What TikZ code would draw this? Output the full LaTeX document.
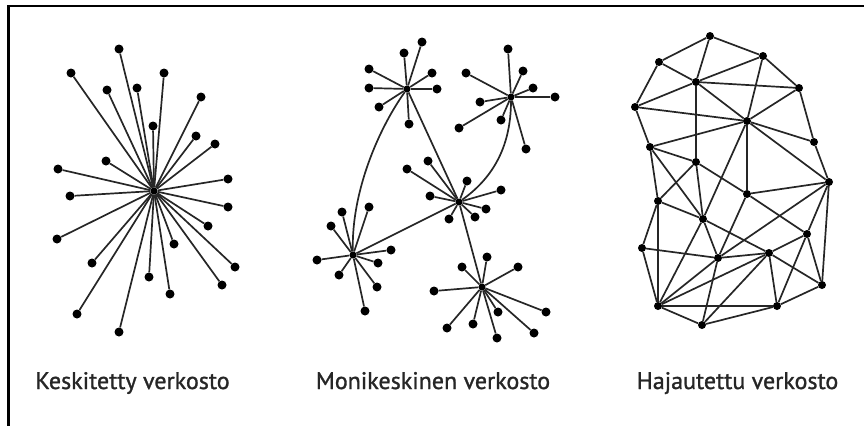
\documentclass[tikz,border=0pt]{standalone}
\usepackage{fontspec}
\setmainfont{PT Sans}
\newfontfamily\capfont{PT Sans}[FakeBold=1.2]

\begin{document}
\begin{tikzpicture}[x=1pt, y=-1pt,
    dot/.style={circle, fill=black, inner sep=0pt, minimum size=9pt},
    hubdot/.style={dot, minimum size=7pt},
    meshdot/.style={dot, minimum size=8pt},
    link/.style={draw=black!85, line width=1.7pt},
    caption/.style={anchor=base, font=\capfont\fontsize{24}{28}\selectfont, text=black!85}]
    \useasboundingbox (0,0) rectangle (864,426);
    \draw[line width=2.4pt] (864,6) -- (8.5,6) -- (8.5,426);

    \begin{scope}
        \node[hubdot] (star) at (154,191) {};
        \foreach \x/\y [count=\i] in {119/49, 71/73, 107/90, 137/88, 164/73, 201/97,
                153/126, 196/136, 215/144, 106/161, 58/169, 228/179, 70/196, 228/207,
                208/226, 57/239, 174/244, 92/263, 235/267, 149/277, 222/285, 170/294,
                77/314, 119/332} {
            \node[dot] (star\i) at (\x,\y) {};
            \draw[link] (star) -- (star\i);
        }
        \node[caption] (starlabel) at (132.5,389) {Keskitetty verkosto};
    \end{scope}

    \begin{scope}
        \node[hubdot] (hubN) at (407,89) {};
        \node[hubdot] (hubNE) at (511,97) {};
        \node[hubdot] (hubC) at (459,202) {};
        \node[hubdot] (hubW) at (353,255) {};
        \node[hubdot] (hubS) at (482,287) {};

        \foreach \x/\y [count=\i] in {422/42, 404/53, 369/69, 432/73, 369/88, 437/89,
                379/107, 409/124} {
            \node[dot] (n\i) at (\x,\y) {};
            \draw[link] (hubN) -- (n\i);
        }
        \foreach \x/\y [count=\i] in {508/49, 466/73, 523/71, 533/88, 555/97, 480/102,
                501/120, 459/128, 526/149} {
            \node[dot] (ne\i) at (\x,\y) {};
            \draw[link] (hubNE) -- (ne\i);
        }
        \foreach \x/\y [count=\i] in {407/169, 428/161, 467/181, 501/190, 430/196,
                486/209, 475/217, 449/219} {
            \node[dot] (c\i) at (\x,\y) {};
            \draw[link] (hubC) -- (c\i);
        }
        \foreach \x/\y [count=\i] in {369/207, 342/212, 331/226, 391/250, 317/260,
                378/263, 339/275, 377/287, 365/311} {
            \node[dot] (w\i) at (\x,\y) {};
            \draw[link] (hubW) -- (w\i);
        }
        \foreach \x/\y [count=\i] in {487/257, 462/267, 518/267, 434/291, 498/312,
                546/312, 447/328, 473/324, 497/338, 534/333} {
            \node[dot] (s\i) at (\x,\y) {};
            \draw[link] (hubS) -- (s\i);
        }

        \draw[link] (hubN) -- (hubC);
        \draw[link] (hubC) -- (hubW);
        \draw[link] (hubC) -- (hubS);
        \draw[link] (hubN) .. controls (379,128) and (351,192) .. (hubW);
        \draw[link] (hubNE) .. controls (511,150) and (490,180) .. (hubC);

        \node[caption] (hublabel) at (433,389) {Monikeskinen verkosto};
    \end{scope}

    \begin{scope}
        \foreach \x/\y [count=\i] in {710/36, 659/62, 763/56, 696/82, 799/88, 635/107,
                747/121, 814/142, 650/147, 696/162, 829/182, 747/194, 658/201, 703/219,
                807/234, 642/248, 718/258, 769/253, 822/285, 658/306, 777/306, 702/325}
            \node[meshdot] (m\i) at (\x,\y) {};
        \foreach \a/\b in {1/2, 1/3, 1/4, 2/4, 2/6, 3/4, 3/5, 3/7, 4/5, 4/6, 4/7, 4/10,
                5/7, 5/8, 6/7, 6/9, 7/8, 7/9, 7/11, 7/12, 7/14, 8/11, 9/10, 9/13, 9/14,
                10/12, 10/13, 10/14, 11/12, 11/15, 11/17, 11/19, 12/15, 12/17, 13/14,
                13/16, 13/20, 14/17, 14/18, 14/20, 15/18, 15/19, 15/21, 16/17, 16/20,
                17/18, 17/20, 17/22, 18/19, 18/20, 18/21, 18/22, 19/21, 20/21, 20/22,
                21/22}
            \draw[link] (m\a) -- (m\b);

        \node[caption] (meshlabel) at (737.5,389) {Hajautettu verkosto};
    \end{scope}
\end{tikzpicture}
\end{document}
